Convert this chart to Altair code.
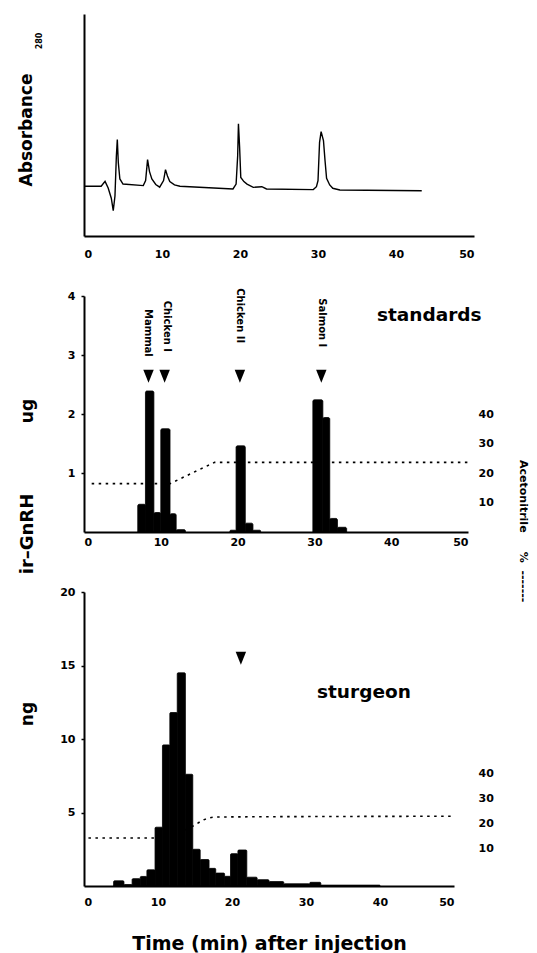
import altair as alt
import pandas as pd

FONT = "DejaVu Sans"

# ---------------- data ----------------
# Absorbance trace (top panel)
abs_time = [0.0, 2.2, 2.7, 3.1, 3.5, 3.75, 3.97, 4.15, 4.27, 4.4, 4.6, 5.0, 7.6, 7.9, 8.15, 8.4, 8.7, 9.2, 9.7,
            10.2, 10.45, 10.7, 11.0, 11.6, 12.3, 19.1, 19.5, 19.7, 19.8, 19.95, 20.1, 20.5, 20.9, 21.7, 22.8, 23.4,
            29.4, 29.8, 30.0, 30.2, 30.4, 30.7, 30.9, 31.1, 31.5, 31.9, 32.8, 43.3]
abs_value = [0.224, 0.224, 0.246, 0.216, 0.17, 0.114, 0.18, 0.36, 0.434, 0.33, 0.257, 0.234, 0.227, 0.25, 0.344,
             0.29, 0.257, 0.232, 0.22, 0.25, 0.299, 0.27, 0.245, 0.23, 0.224, 0.212, 0.234, 0.36, 0.505, 0.4,
             0.264, 0.245, 0.234, 0.219, 0.222, 0.212, 0.209, 0.222, 0.249, 0.422, 0.47, 0.43, 0.34, 0.26, 0.23,
             0.215, 0.207, 0.204]

# Standards: ir-GnRH (ug) per collected fraction
std_start = [7.0, 8.0, 9.1, 10.0, 11.2, 12.0, 19.0, 19.8, 21.0, 22.0, 29.8, 31.1, 32.0, 33.0]
std_end = [8.0, 9.1, 10.0, 11.2, 12.0, 13.2, 19.8, 21.0, 22.0, 23.0, 31.1, 32.0, 33.0, 34.2]
std_ug = [0.47, 2.39, 0.33, 1.75, 0.31, 0.04, 0.03, 1.46, 0.15, 0.03, 2.24, 1.94, 0.23, 0.08]

std_names = ["Mammal", "Chicken I", "Chicken II", "Salmon I"]
std_name_time = [8.33, 10.8, 20.3, 31.05]
std_name_end = [2.97, 3.05, 3.2, 3.13]
std_arrow_time = [8.4, 10.5, 20.3, 30.9]
std_arrow_ug = [2.64, 2.64, 2.64, 2.64]

# Acetonitrile gradient (standards run)
acn_std_time = [1.0, 11.2, 17.0, 50.0]
acn_std_pct = [16.4, 16.4, 23.6, 23.6]

# Sturgeon: ir-GnRH (ng) per collected fraction
stu_start = [4.0, 5.4, 6.5, 7.6, 8.5, 9.6, 10.6, 11.6, 12.6, 13.7, 14.7, 15.7, 16.9, 17.8, 19.0, 19.8, 20.8,
             22.0, 23.4, 25.0, 27.0, 30.5, 32.0]
stu_end = [5.4, 6.5, 7.6, 8.5, 9.6, 10.6, 11.6, 12.6, 13.7, 14.7, 15.7, 16.9, 17.8, 19.0, 19.8, 20.8, 22.0,
           23.4, 25.0, 27.0, 30.5, 32.0, 40.0]
stu_ng = [0.35, 0.1, 0.5, 0.65, 1.1, 4.0, 9.6, 11.8, 14.5, 7.6, 2.5, 1.8, 1.2, 0.88, 0.66, 2.2, 2.45,
          0.6, 0.43, 0.3, 0.15, 0.25, 0.06]
stu_arrow_time = [21.2]
stu_arrow_ng = [15.5]

# Acetonitrile gradient (sturgeon run)
acn_stu_time = [0.6, 9.7, 14.8, 16.2, 17.8, 50.0]
acn_stu_pct = [14.0, 14.0, 18.9, 21.3, 22.4, 22.7]

x_ticks = [0, 10, 20, 30, 40, 50]

# ---------------- helpers ----------------
x_scale = alt.Scale(domain=[0, 50], nice=False, zero=False)
TRI = "M -0.8 -1 L 0.8 -1 L 0 1 Z"
NB = "\u00a0"


def xaxis(pad, title=None, **kw):
    args = dict(values=x_ticks, grid=False, tickSize=0, labelPadding=pad, domainWidth=2,
                domainColor="black", labelFont=FONT, labelFontWeight="bold", labelFontSize=11,
                labelColor="black", format="d")
    if title is not None:
        args.update(title=title)
    else:
        args.update(title=None)
    args.update(kw)
    return alt.Axis(**args)


def yaxis(values, pad=6):
    return alt.Axis(values=values, title=None, grid=False, tickSize=3, tickColor="black", tickWidth=1.5,
                    labelPadding=pad, domainWidth=2, domainColor="black", labelFont=FONT,
                    labelFontWeight="bold", labelFontSize=11, labelColor="black", format="d")


def right_axis(pad):
    return alt.Axis(orient="right", values=[10, 20, 30, 40], title=None, grid=False, domain=False,
                    ticks=False, labelPadding=pad, labelFont=FONT, labelFontWeight="bold",
                    labelFontSize=11, labelColor="black", format="d")


def note(text, x, y, size, angle=270, align="center", baseline="middle"):
    return alt.Chart(pd.DataFrame({"s": [text]})).mark_text(
        font=FONT, fontWeight="bold", fontSize=size, angle=angle, align=align,
        baseline=baseline, color="black").encode(text="s:N", x=alt.value(x), y=alt.value(y))


# ---------------- top panel ----------------
abs_df = pd.DataFrame({"t": abs_time, "a": abs_value})
top_line = alt.Chart(abs_df).mark_line(color="black", strokeWidth=1.4).encode(
    x=alt.X("t:Q", scale=x_scale, axis=xaxis(12)),
    y=alt.Y("a:Q", scale=alt.Scale(domain=[0, 1], nice=False),
            axis=alt.Axis(title=None, labels=False, ticks=False, grid=False, domainWidth=2,
                          domainColor="black")),
)
top = alt.layer(
    top_line,
    note("Absorbance", -57, 116, 17),
    note("280", -44, 27, 8),
).properties(width=390, height=222)

# ---------------- middle panel (standards) ----------------
std_df = pd.DataFrame({"s": std_start, "e": std_end, "v": std_ug})
names_df = pd.DataFrame({"t": std_name_time, "v": std_name_end, "n": std_names})
arrows_df = pd.DataFrame({"t": std_arrow_time, "v": std_arrow_ug})
acn_std_df = pd.DataFrame({"t": acn_std_time, "p": acn_std_pct})

ug_scale = alt.Scale(domain=[0, 4], nice=False)

mid_dash = alt.Chart(acn_std_df).mark_line(color="black", strokeDash=[2.5, 4.5], strokeWidth=1.6).encode(
    x=alt.X("t:Q", scale=x_scale, axis=xaxis(4)),
    y=alt.Y("p:Q", scale=alt.Scale(domain=[0, 80], nice=False), axis=right_axis(10)),
)
mid_bars = alt.Chart(std_df).mark_bar(color="black", stroke="black", strokeWidth=0.8,
                                      cornerRadiusTopLeft=1.5, cornerRadiusTopRight=1.5).encode(
    x=alt.X("s:Q", scale=x_scale),
    x2="e:Q",
    y=alt.Y("v:Q", scale=ug_scale, axis=yaxis([1, 2, 3, 4])),
    y2=alt.datum(0),
)
mid_arrows = alt.Chart(arrows_df).mark_point(shape=TRI, filled=True, size=170, color="black",
                                             opacity=1).encode(
    x=alt.X("t:Q", scale=x_scale), y=alt.Y("v:Q", scale=ug_scale))
mid_names = alt.Chart(names_df).mark_text(font=FONT, fontWeight="bold", fontSize=10, angle=90,
                                          align="right", baseline="middle", color="black").encode(
    x=alt.X("t:Q", scale=x_scale), y=alt.Y("v:Q", scale=ug_scale), text="n:N")

mid_inner = alt.layer(
    mid_bars, mid_arrows, mid_names,
    note("standards", 293, 19, 18.5, angle=0, align="left"),
    note("ug", -56, 115, 17),
    note("ir\u2013GnRH", -56, 238, 18),
    note("Acetonitrile" + NB * 5 + "%" + NB * 2 + "-------", 439, 164, 11, angle=90, align="left"),
)
mid = alt.layer(mid_dash, mid_inner).resolve_scale(y="independent").properties(width=384, height=236)

# ---------------- bottom panel (sturgeon) ----------------
stu_df = pd.DataFrame({"s": stu_start, "e": stu_end, "v": stu_ng})
stu_arrow_df = pd.DataFrame({"t": stu_arrow_time, "v": stu_arrow_ng})
acn_stu_df = pd.DataFrame({"t": acn_stu_time, "p": acn_stu_pct})

ng_scale = alt.Scale(domain=[0, 20], nice=False)

bot_dash = alt.Chart(acn_stu_df).mark_line(color="black", strokeDash=[2.5, 4.5], strokeWidth=1.6,
                                           interpolate="monotone").encode(
    x=alt.X("t:Q", scale=x_scale,
            axis=xaxis(10, title="Time (min) after injection", titleFont=FONT, titleFontWeight="bold",
                       titleFontSize=19, titleColor="black", titlePadding=27)),
    y=alt.Y("p:Q", scale=alt.Scale(domain=[-5.2, 112.4], nice=False, zero=False), axis=right_axis(24)),
)
bot_bars = alt.Chart(stu_df).mark_bar(color="black", stroke="black", strokeWidth=0.8,
                                      cornerRadiusTopLeft=1, cornerRadiusTopRight=1).encode(
    x=alt.X("s:Q", scale=x_scale),
    x2="e:Q",
    y=alt.Y("v:Q", scale=ng_scale, axis=yaxis([5, 10, 15, 20])),
    y2=alt.datum(0),
)
bot_arrow = alt.Chart(stu_arrow_df).mark_point(shape=TRI, filled=True, size=170, color="black",
                                               opacity=1).encode(
    x=alt.X("t:Q", scale=x_scale), y=alt.Y("v:Q", scale=ng_scale))

bot_inner = alt.layer(
    bot_bars, bot_arrow,
    note("sturgeon", 233, 100, 18.5, angle=0, align="left"),
    note("ng", -56, 122, 17),
)
bot = alt.layer(bot_dash, bot_inner).resolve_scale(y="independent").properties(width=370, height=294)

chart = alt.vconcat(top, mid, bot, spacing=60, bounds="flush").properties(
    padding={"left": 10, "top": 6, "right": 0, "bottom": 0}
).configure_view(strokeWidth=0)

chart.save("out.html", embed_options={"renderer": "svg", "actions": False})
